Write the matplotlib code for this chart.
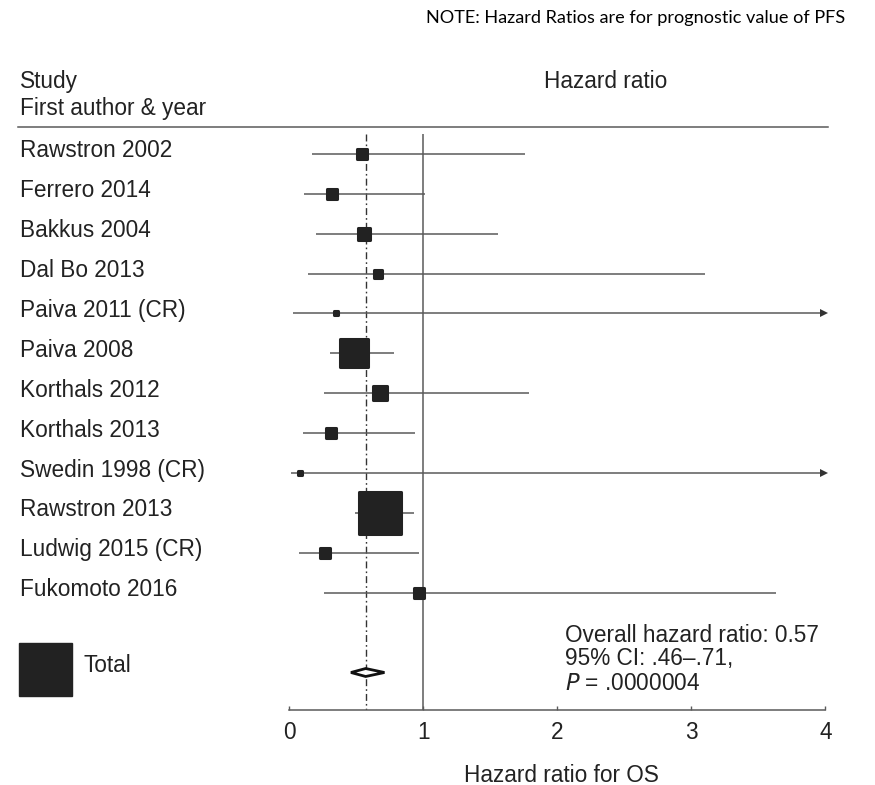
import matplotlib.pyplot as plt
from matplotlib.markers import MarkerStyle
from matplotlib.patches import Rectangle, Polygon
from matplotlib.lines import Line2D
import numpy as np

plt.rcParams['font.family'] = ['Liberation Sans', 'DejaVu Sans']

# datos
studies = ['Rawstron 2002', 'Ferrero 2014', 'Bakkus 2004', 'Dal Bo 2013',
           'Paiva 2011 (CR)', 'Paiva 2008', 'Korthals 2012', 'Korthals 2013',
           'Swedin 1998 (CR)', 'Rawstron 2013', 'Ludwig 2015 (CR)', 'Fukomoto 2016']
hr = [0.54, 0.32, 0.56, 0.66, 0.35, 0.48, 0.675, 0.31, 0.08, 0.68, 0.27, 0.97]
ci_low = [0.17, 0.11, 0.20, 0.14, 0.03, 0.30, 0.26, 0.10, 0.01, 0.49, 0.07, 0.26]
ci_high = [1.76, 1.01, 1.56, 3.10, 6.0, 0.78, 1.79, 0.94, 6.0, 0.93, 0.97, 3.63]
weights = [3.8, 3.8, 5.1, 2.7, 1.1, 20.4, 5.8, 4.4, 1.1, 43.9, 3.8, 3.8]

overall_hr = 0.57
overall_low = 0.46
overall_high = 0.71
xticks = [0, 1, 2, 3, 4]

W, H = 875, 785
fig = plt.figure(figsize=(W / 100, H / 100), dpi=100)

def fx(px):
    return px / W

def fy(py):
    return 1 - py / H

row0, step = 153.8, 39.9
y_bot = (709.5 - row0) / step
y_top = (127 - row0) / step

ax = fig.add_axes([fx(289.3), fy(709.5), fx(825.3) - fx(289.3), fy(127) - fy(709.5)])
ax.set_xlim(0, 4)
ax.set_ylim(y_bot, y_top)

line_col = '#5a5a5a'
box_col = '#222222'
txt_col = '#222222'
fs = 16.3

# lineas de referencia
ax.vlines(1, -0.5, y_bot, color=line_col, lw=1.1, zorder=1)
ax.vlines(overall_hr, -0.5, y_bot, color='#333333', lw=1.0,
          linestyles=[(0, (5, 2.2, 1.2, 2.2))], zorder=1)

square = MarkerStyle('s', joinstyle='round')
for i, name in enumerate(studies):
    hi = min(ci_high[i], 4)
    ax.plot([ci_low[i], hi], [i, i], color=line_col, lw=1.1, zorder=2, solid_capstyle='butt')
    if ci_high[i] > 4:
        ax.plot(4 - 0.01, i, marker='>', ms=5.5, color='#333333', mew=0, clip_on=False, zorder=3)
    side = 6.7 * np.sqrt(weights[i]) * 0.72
    ax.plot(hr[i], i, marker=square, ms=side - 2.2, mew=2.2, color=box_col,
            mec=box_col, zorder=4)
    fig.text(fx(20), fy(row0 + step * i - 3), name, fontsize=fs, color=txt_col,
             va='center', ha='left')

# diamante total
yt = 13
h = 0.1
diamond = Polygon([[overall_low, yt], [overall_hr, yt - h], [overall_high, yt],
                   [overall_hr, yt + h]], closed=True, facecolor='white',
                  edgecolor='#111111', lw=2.0, joinstyle='miter', zorder=5)
ax.add_patch(diamond)

# ejes
for s in ['top', 'right', 'left']:
    ax.spines[s].set_visible(False)
ax.spines['bottom'].set_color(line_col)
ax.spines['bottom'].set_linewidth(1.1)
ax.set_yticks([])
ax.set_xticks(xticks)
ax.set_xticklabels([str(t) for t in xticks])
ax.tick_params(axis='x', direction='in', length=3, width=1, color=line_col,
               labelsize=fs, labelcolor=txt_col, pad=8)

# textos
fig.text(fx(20), fy(81.7), 'Study', fontsize=fs, color=txt_col, va='center')
fig.text(fx(20), fy(109), 'First author & year', fontsize=fs, color=txt_col, va='center')
fig.text(fx(605.5), fy(82), 'Hazard ratio', fontsize=fs, color=txt_col,
         va='center', ha='center')
fig.text(fx(561), fy(775), 'Hazard ratio for OS', fontsize=fs, color=txt_col,
         va='center', ha='center')
fig.text(fx(845), fy(18), 'NOTE: Hazard Ratios are for prognostic value of PFS',
         fontsize=13.1, family=['Lato', 'DejaVu Sans'], color='black',
         va='center', ha='right')

fig.text(fx(565), fy(635), 'Overall hazard ratio: 0.57', fontsize=fs, color=txt_col, va='center')
fig.text(fx(565), fy(659), '95% CI: .46\u2013.71,', fontsize=fs, color=txt_col, va='center')
fig.text(fx(565), fy(683), '$\\it{P}$ = .0000004', fontsize=fs, color=txt_col, va='center')

# separador superior
fig.add_artist(Line2D([fx(18), fx(828)], [fy(127.3), fy(127.3)], color=line_col, lw=1.1))

# leyenda total
fig.add_artist(Rectangle((fx(18.7), fy(696)), fx(71.7) - fx(18.7), fy(642.7) - fy(696),
                         facecolor=box_col, edgecolor=box_col, lw=1))
fig.text(fx(84), fy(665), 'Total', fontsize=fs, color=txt_col, va='center')

plt.savefig('out.png', dpi=100)
